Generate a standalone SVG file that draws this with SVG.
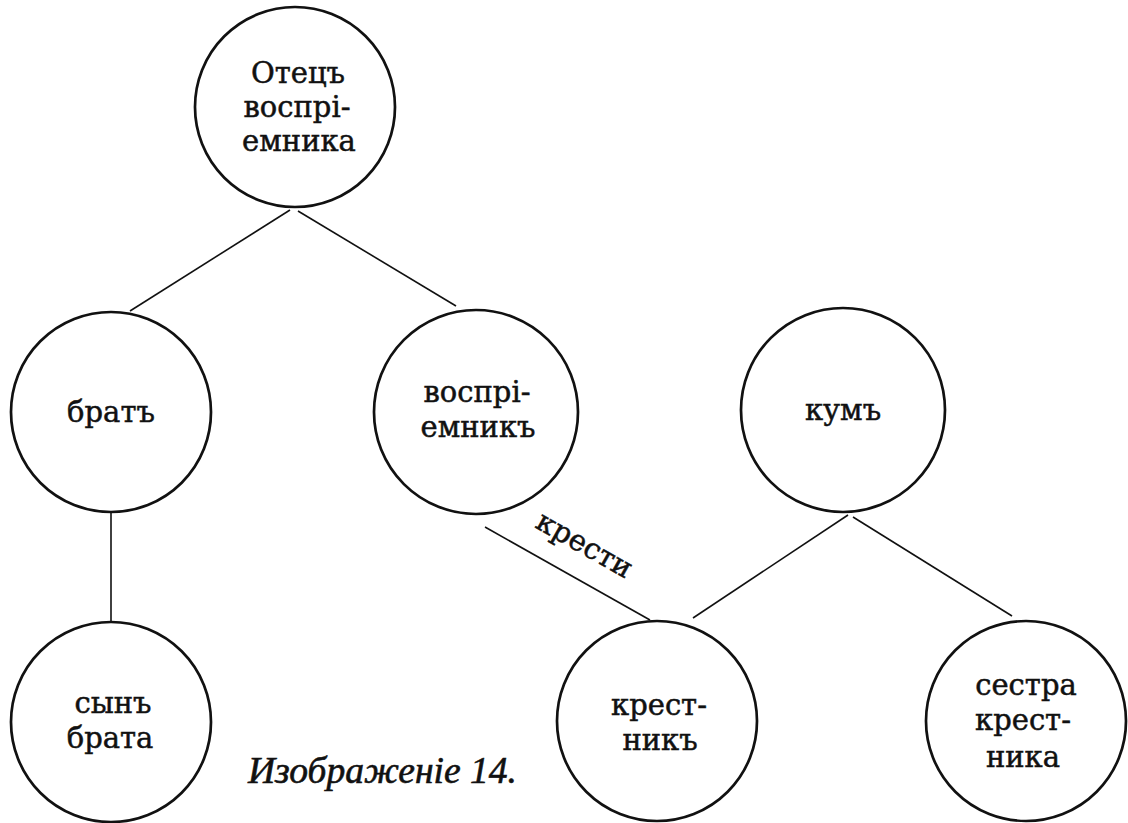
<svg xmlns="http://www.w3.org/2000/svg" width="1128" height="823" viewBox="0 0 1128 823">
<style>
.c{fill:none;stroke:#111;stroke-width:2.7}
.l{stroke:#111;stroke-width:1.6;fill:none}
.t{font-family:"DejaVu Serif","Liberation Serif",serif;font-size:29px;fill:#111;stroke:#111;stroke-width:0.5;text-anchor:middle}
.cap{font-family:"Liberation Serif",serif;font-style:italic;font-size:37px;fill:#111;stroke:#111;stroke-width:0.6}
</style>
<rect width="1128" height="823" fill="#fff"/>
<g id="connectors">
<line class="l" x1="290" y1="210" x2="130" y2="311"/>
<line class="l" x1="298" y1="211" x2="456" y2="306"/>
<line class="l" x1="111" y1="513" x2="111" y2="622"/>
<line class="l" x1="485" y1="527" x2="650" y2="620"/>
<line class="l" x1="848" y1="515" x2="693" y2="618"/>
<line class="l" x1="853" y1="517" x2="1012" y2="616"/>
<text class="t" transform="translate(580,553) rotate(29.5)">крести</text>
</g>
<g id="otets">
<circle class="c" cx="295" cy="107" r="100"/>
<text class="t" x="298" y="83">Отецъ</text>
<text class="t" x="297" y="117">воспрі-</text>
<text class="t" x="299" y="151">емника</text>
</g>
<g id="brat">
<circle class="c" cx="111" cy="412" r="100"/>
<text class="t" x="111" y="422">братъ</text>
</g>
<g id="vospriemnik">
<circle class="c" cx="476" cy="412" r="102"/>
<text class="t" x="477" y="402">воспрі-</text>
<text class="t" x="478" y="437">емникъ</text>
</g>
<g id="kum">
<circle class="c" cx="843" cy="410" r="102"/>
<text class="t" x="843" y="420">кумъ</text>
</g>
<g id="syn-brata">
<circle class="c" cx="111" cy="722" r="100"/>
<text class="t" x="113" y="713">сынъ</text>
<text class="t" x="110" y="748">брата</text>
</g>
<g id="krestnik">
<circle class="c" cx="657" cy="721" r="100"/>
<text class="t" x="659" y="715">крест-</text>
<text class="t" x="660" y="750">никъ</text>
</g>
<g id="sestra">
<circle class="c" cx="1026" cy="721" r="100"/>
<text class="t" x="1026" y="695">сестра</text>
<text class="t" x="1023" y="730">крест-</text>
<text class="t" x="1023" y="767">ника</text>
</g>
<text class="cap" x="248" y="783" textLength="269" lengthAdjust="spacingAndGlyphs">Изображеніе 14.</text>
</svg>
